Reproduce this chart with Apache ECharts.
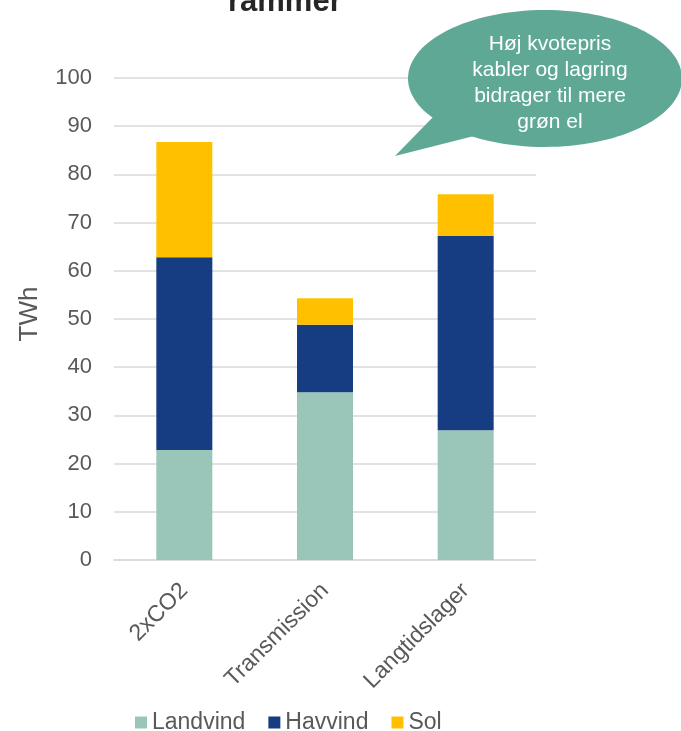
<!DOCTYPE html>
<html>
<head>
<meta charset="utf-8">
<script src="https://cdn.jsdelivr.net/npm/echarts@6/dist/echarts.min.js"></script>
<style>
  html, body { margin: 0; padding: 0; background: #ffffff; }
  #chart { width: 681px; height: 731px; }
</style>
</head>
<body>
<div id="chart"></div>
<script>
// Scenario categories and stacked production (TWh)
const categories = ['2xCO2', 'Transmission', 'Langtidslager'];
const landvind = [22.8, 34.8, 26.9];
const havvind = [40.0, 14.0, 40.3];
const sol = [23.9, 5.5, 8.7];
const yTicks = { min: 0, max: 100, interval: 10 };

const FONT = "'Liberation Sans', Arial, sans-serif";
const GREY = '#595959';
const BUBBLE = '#5fa895';

const chart = echarts.init(document.getElementById('chart'), null, { renderer: 'canvas' });

chart.setOption({
  animation: false,
  backgroundColor: '#ffffff',
  grid: { left: 114, right: 145, top: 78, bottom: 171, containLabel: false },
  legend: {
    left: 130,
    top: 706,
    itemWidth: 12,
    itemHeight: 12,
    itemGap: 23,
    icon: 'rect',
    textStyle: { color: GREY, fontSize: 23, fontFamily: FONT },
    data: ['Landvind', 'Havvind', 'Sol']
  },
  xAxis: {
    type: 'category',
    data: categories,
    axisLine: { lineStyle: { color: '#d9d9d9', width: 1.5 } },
    axisTick: { show: false },
    axisLabel: { rotate: 45, color: GREY, fontSize: 23, fontFamily: FONT, margin: 27, interval: 0 }
  },
  yAxis: {
    type: 'value',
    min: yTicks.min,
    max: yTicks.max,
    interval: yTicks.interval,
    axisLine: { show: false },
    axisTick: { show: false },
    splitLine: { lineStyle: { color: '#d9d9d9', width: 1.5 } },
    axisLabel: { color: GREY, fontSize: 22, fontFamily: FONT, margin: 22 }
  },
  series: [
    { name: 'Landvind', type: 'bar', stack: 'tot', barWidth: 56, data: landvind, itemStyle: { color: '#9ac6ba' } },
    { name: 'Havvind', type: 'bar', stack: 'tot', barWidth: 56, data: havvind, itemStyle: { color: '#163d82' } },
    { name: 'Sol', type: 'bar', stack: 'tot', barWidth: 56, data: sol, itemStyle: { color: '#ffc000' } }
  ],
  graphic: [
    {
      type: 'text', left: 228, top: -13, z: 100,
      style: { text: 'rammer', font: 'bold 31px ' + FONT, fill: '#262626' }
    },
    {
      type: 'text', x: 30, y: 314, rotation: Math.PI / 2, z: 100,
      style: { text: 'TWh', font: '26px ' + FONT, fill: GREY, align: 'center', verticalAlign: 'middle' }
    },
    {
      type: 'ellipse', z: 100, zlevel: 1,
      shape: { cx: 545, cy: 78.5, rx: 137, ry: 68.5 },
      style: { fill: BUBBLE }
    },
    {
      type: 'polygon', z: 100, zlevel: 1,
      shape: { points: [[434, 116], [395, 156], [474, 136]] },
      style: { fill: BUBBLE }
    },
    {
      type: 'text', x: 550, y: 83, z: 101, zlevel: 1,
      style: {
        text: 'Høj kvotepris\nkabler og lagring\nbidrager til mere\ngrøn el',
        font: '21px ' + FONT, fill: '#ffffff', align: 'center', verticalAlign: 'middle', lineHeight: 26
      }
    }
  ]
});
</script>
</body>
</html>
